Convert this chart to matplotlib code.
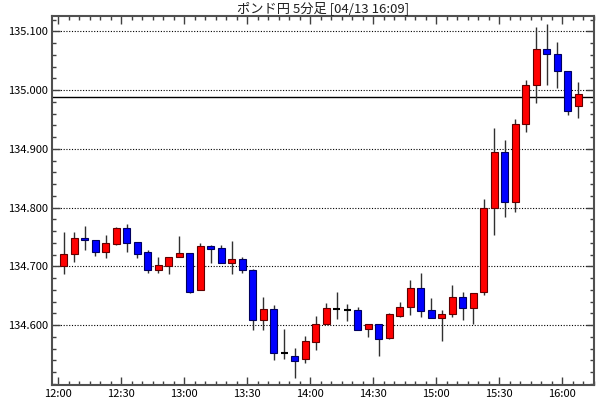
import numpy as np
import matplotlib
matplotlib.use('Agg')
from matplotlib import pyplot as plt
from matplotlib.ticker import MultipleLocator, FormatStrFormatter

plt.rcParams['font.family'] = ['Noto Sans CJK JP', 'DejaVu Sans']

title = 'ポンド円 5分足 [04/13 16:09]'

# 5分足 12:00 - 16:05
opens = [134.700, 134.721, 134.748, 134.745, 134.724, 134.738, 134.766, 134.741, 134.724, 134.694,
         134.701, 134.715, 134.723, 134.660, 134.734, 134.731, 134.705, 134.712, 134.693, 134.609,
         134.627, 134.552, 134.547, 134.542, 134.572, 134.601, 134.627, 134.626, 134.625, 134.593,
         134.601, 134.578, 134.616, 134.630, 134.663, 134.625, 134.612, 134.619, 134.648, 134.629,
         134.656, 134.799, 134.895, 134.809, 134.943, 135.008, 135.069, 135.062, 135.033, 134.973]
highs = [134.758, 134.758, 134.769, 134.745, 134.754, 134.767, 134.772, 134.741, 134.727, 134.716,
         134.716, 134.752, 134.723, 134.739, 134.737, 134.736, 134.743, 134.716, 134.695, 134.648,
         134.634, 134.593, 134.561, 134.581, 134.616, 134.638, 134.656, 134.636, 134.630, 134.601,
         134.601, 134.621, 134.640, 134.677, 134.688, 134.646, 134.626, 134.668, 134.656, 134.655,
         134.814, 134.936, 134.915, 134.950, 135.017, 135.108, 135.113, 135.081, 135.033, 135.013]
lows = [134.687, 134.708, 134.728, 134.717, 134.714, 134.737, 134.724, 134.714, 134.688, 134.688,
        134.687, 134.715, 134.655, 134.660, 134.706, 134.705, 134.687, 134.688, 134.592, 134.592,
        134.541, 134.542, 134.510, 134.535, 134.558, 134.601, 134.610, 134.607, 134.592, 134.580,
        134.547, 134.577, 134.613, 134.617, 134.614, 134.612, 134.573, 134.614, 134.609, 134.601,
        134.651, 134.753, 134.784, 134.793, 134.929, 134.978, 135.009, 135.003, 134.957, 134.953]
closes = [134.721, 134.748, 134.744, 134.724, 134.739, 134.766, 134.740, 134.721, 134.694, 134.702,
          134.716, 134.723, 134.657, 134.735, 134.730, 134.705, 134.712, 134.694, 134.609, 134.627,
          134.552, 134.552, 134.539, 134.573, 134.602, 134.629, 134.627, 134.626, 134.592, 134.601,
          134.576, 134.618, 134.630, 134.663, 134.624, 134.612, 134.619, 134.648, 134.629, 134.655,
          134.799, 134.895, 134.809, 134.943, 135.008, 135.069, 135.061, 135.033, 134.965, 134.993]
ref_line = 134.988

tick_labels = ['12:00', '12:30', '13:00', '13:30', '14:00', '14:30', '15:00', '15:30', '16:00']
price_ticks = [134.6, 134.7, 134.8, 134.9, 135.0, 135.1]

o = np.array(opens)
h = np.array(highs)
l = np.array(lows)
c = np.array(closes)
x = np.arange(len(o)) * 5 + 2.5  # 足の中心(分)

fig = plt.figure(figsize=(6, 4), dpi=100)
ax = fig.add_axes([0.0872, 0.0375, 0.9033, 0.9225])

ax.axhline(ref_line, color='black', lw=1, zorder=1)

ax.vlines(x, l, h, color='#303030', lw=1, zorder=2)
up = c > o
down = c < o
flat = c == o
ax.bar(x[up], c[up] - o[up], bottom=o[up], width=3.3, color='#ff0000',
       edgecolor='#600000', lw=0.8, zorder=3)
ax.bar(x[down], o[down] - c[down], bottom=c[down], width=3.3, color='#0000ff',
       edgecolor='#000060', lw=0.8, zorder=3)
ax.hlines(o[flat], x[flat] - 1.65, x[flat] + 1.65, color='black', lw=1.5, zorder=3)

ax.set_xlim(-2.86, 255.2)
ax.set_ylim(134.498, 135.126)
ax.set_xticks(np.arange(len(tick_labels)) * 30)
ax.set_xticklabels(tick_labels)
ax.xaxis.set_minor_locator(MultipleLocator(5))
ax.set_yticks(price_ticks)
ax.yaxis.set_minor_locator(MultipleLocator(0.02))
ax.yaxis.set_major_formatter(FormatStrFormatter('%.3f'))
ax.tick_params(which='both', direction='in', top=True, right=True, colors='#404040',
               labelcolor='black', labelsize=8)
ax.tick_params(which='major', length=6, width=1)
ax.tick_params(which='minor', length=3, width=1)
ax.tick_params(axis='x', pad=3)
ax.tick_params(axis='y', pad=3)
ax.grid(axis='y', which='major', color='black', ls=(0, (1, 1.5)), lw=0.8)
ax.set_axisbelow(True)
for s in ax.spines.values():
    s.set_color('#505050')
    s.set_linewidth(1.5)

fig.text(0.539, 0.98, title, ha='center', va='center', fontsize=9.5, color='#202020')

fig.savefig('out.png', dpi=100)
